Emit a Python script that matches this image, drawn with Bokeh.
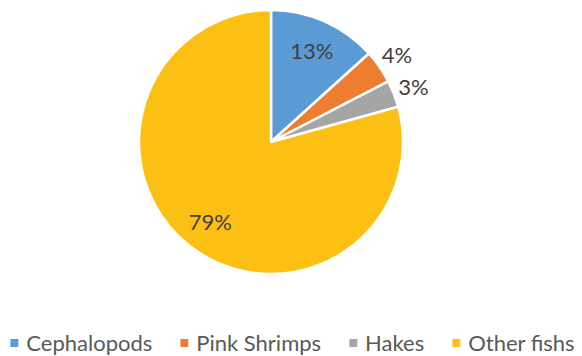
import math
from bokeh.plotting import figure
from bokeh.models import ColumnDataSource, Range1d, Legend, LegendItem
from bokeh.core.properties import value
from bokeh.embed import file_html
from bokeh.resources import INLINE

# ---- data ----
categories = ["Cephalopods", "Pink Shrimps", "Hakes", "Other fishs"]
shares = [13.3, 4.1, 3.3, 79.3]
colors = ["#5B9BD5", "#ED7D31", "#A5A5A5", "#FCBF14"]

# ---- geometry / style ----
W, H = 582, 356
CX, CY, R = 270.5, H - 141.5, 132
FONT = "Lato"

total = sum(shares)
starts, ends, lx, ly, labels = [], [], [], [], []
cum = 0.0
for s in shares:
    a0 = math.pi / 2 - 2 * math.pi * cum / total
    cum += s
    a1 = math.pi / 2 - 2 * math.pi * cum / total
    starts.append(a0)
    ends.append(a1)
    m = (a0 + a1) / 2
    rr = 0.76 * R if s / total >= 0.05 else 1.16 * R
    lx.append(CX + rr * math.cos(m))
    ly.append(CY + rr * math.sin(m))
    labels.append(f"{round(s / total * 100)}%")

src = ColumnDataSource(dict(
    x=[CX] * len(shares), y=[CY] * len(shares),
    start=starts, end=ends, color=colors, cat=categories,
))
lsrc = ColumnDataSource(dict(x=lx, y=ly, text=labels))

p = figure(width=W, height=H, x_range=Range1d(0, W), y_range=Range1d(0, H),
           x_axis_type=None, y_axis_type=None, output_backend="svg",
           toolbar_location=None, min_border=0)
p.grid.visible = False
p.outline_line_color = None
p.background_fill_color = "white"
p.border_fill_color = "white"

wr = p.wedge(x="x", y="y", radius=R, radius_units="screen",
             start_angle="start", end_angle="end", direction="clock",
             fill_color="color", line_color="white", line_width=2.5, source=src)

p.text(x="x", y="y", text="text", source=lsrc, text_align="center",
       text_baseline="middle", text_font=value(FONT), text_font_size="22px",
       text_color="#404040")

items = [LegendItem(label=c, renderers=[wr], index=i) for i, c in enumerate(categories)]
legend = Legend(items=items, orientation="horizontal", location="bottom_center",
                glyph_width=13, glyph_height=13, label_standoff=6, spacing=25,
                padding=0, margin=0, border_line_color=None,
                background_fill_alpha=0, label_text_font=FONT,
                label_text_font_size="22px", label_text_color="#595959")
p.add_layout(legend, "center")

open("out.html", "w").write(file_html(p, INLINE))
